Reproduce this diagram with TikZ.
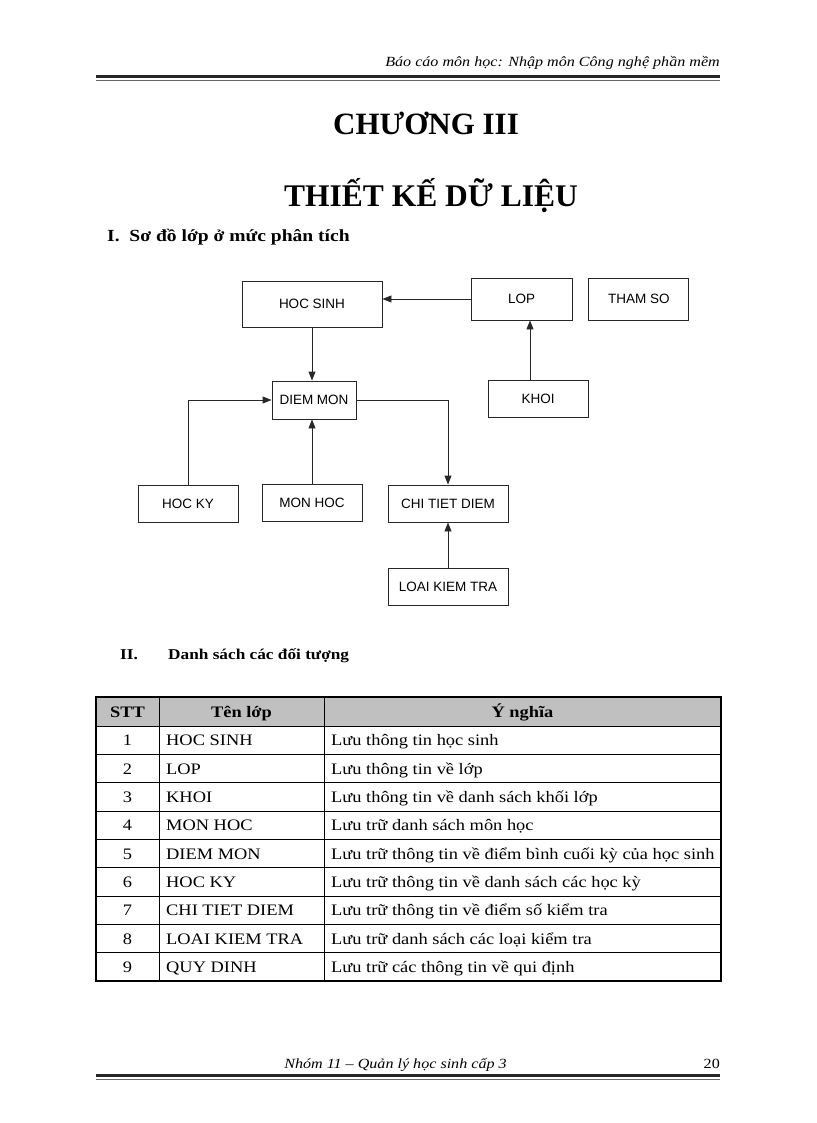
\documentclass[tikz,border=0pt]{standalone}
\usepackage{fontspec}
\setmainfont{Liberation Serif}[FakeStretch=1.15]
\setsansfont{Liberation Sans}
\newfontfamily\titlefont{Liberation Serif}
\usepackage{tikz}
\usetikzlibrary{arrows.meta,positioning}
\definecolor{hdrgray}{RGB}{192,192,192}
\definecolor{linegray}{RGB}{40,40,40}
\tikzset{
  classbox/.style={draw=linegray, line width=0.9pt, inner sep=0pt,
    minimum width=100pt, minimum height=37pt, align=center,
    font=\sffamily\fontsize{13.5}{16}\selectfont},
  link/.style={-{Triangle[length=9pt,width=7pt]}, line width=0.9pt, draw=linegray},
  plaintext/.style={inner sep=0pt},
  cell/.style={inner sep=0pt, font=\fontsize{16}{19}\selectfont},
  headcell/.style={inner sep=0pt, anchor=base, font=\bfseries\fontsize{16}{19}\selectfont},
  rulethick/.style={line width=3pt, black!85},
  rulethin/.style={line width=1pt, black!60}
}

\begin{document}
\begin{tikzpicture}[x=1pt, y=-1pt]
\useasboundingbox (0,0) rectangle (816,1123);

% page header
\node[plaintext, anchor=base east, font=\itshape\fontsize{14}{17}\selectfont] (hdr) at (720,67)
  {Báo cáo môn học: Nhập môn Công nghệ phần mềm};
\draw[rulethick] (96,76.5) -- (720,76.5);
\draw[rulethin] (96,80.5) -- (720,80.5);

% chapter title
\node[plaintext, anchor=base, font=\titlefont\bfseries\fontsize{31}{36}\selectfont] (chap) at (426,135) {CHƯƠNG III};
\node[plaintext, anchor=base, font=\titlefont\bfseries\fontsize{31.5}{36}\selectfont] (chaptitle) at (431,207) {THIẾT KẾ DỮ LIỆU};

% section I
\node[plaintext, anchor=base west, font=\bfseries\fontsize{17}{20}\selectfont] (sec1) at (107,241)
  {I.\ \ Sơ đồ lớp ở mức phân tích};

% class diagram
\node[classbox, minimum width=140pt, minimum height=46pt] (hocsinh) at (312,304) {HOC SINH};
\node[classbox, minimum width=84pt, minimum height=38pt] (diemmon) at (314,400) {DIEM MON};
\node[classbox, minimum width=101pt, minimum height=42pt] (lop) at (521.5,299) {LOP};
\node[classbox, minimum width=100pt, minimum height=42pt, right=16pt of lop] (thamso) {THAM SO};
\node[classbox] (khoi) at (538,398.5) {KHOI};
\node[classbox] (hocky) at (188,503.5) {HOC KY};
\node[classbox] (monhoc) at (312,502.5) {MON HOC};
\node[classbox, minimum width=120pt] (chitiet) at (448,503.5) {CHI TIET DIEM};
\node[classbox, minimum width=120pt] (loaikt) at (448,586.5) {LOAI KIEM TRA};

\draw[link] (lop.west) -- (hocsinh.east |- lop.west);
\draw[link] (hocsinh.south) -- (hocsinh.south |- diemmon.north);
\draw[link] (hocky.north) |- (diemmon.west);
\draw[link] (monhoc.north) -- (monhoc.north |- diemmon.south);
\draw[link] (diemmon.east) -| (chitiet.north);
\draw[link] ([xshift=-8pt]khoi.north) -- ([xshift=-8pt]khoi.north |- lop.south);
\draw[link] (loaikt.north) -- (chitiet.south);

% section II
\node[plaintext, anchor=base west, font=\bfseries\fontsize{15}{18}\selectfont] (sec2num) at (120,659) {II.};
\node[plaintext, anchor=base west, font=\bfseries\fontsize{15}{18}\selectfont] (sec2) at (168,659)
  {Danh sách các đối tượng};

% table
\fill[hdrgray] (96,697) rectangle (721,726);
\foreach \i in {0,...,8}
  \draw[line width=0.9pt] (96,{726+\i*28.333}) -- (721,{726+\i*28.333});
\foreach \x in {159,324}
  \draw[line width=0.9pt] (\x,697) -- (\x,981);
\draw[line width=1.3pt] (96,697) rectangle (721,981);

\node[headcell] (hstt) at (127.5,717) {STT};
\node[headcell] (hten) at (241.5,717) {Tên lớp};
\node[headcell] (hnghia) at (522.5,717) {Ý nghĩa};

\foreach \n/\name/\desc [count=\i] in {
    1/HOC SINH/Lưu thông tin học sinh,
    2/LOP/Lưu thông tin về lớp,
    3/KHOI/Lưu thông tin về danh sách khối lớp,
    4/MON HOC/Lưu trữ danh sách môn học,
    5/DIEM MON/Lưu trữ thông tin về điểm bình cuối kỳ của học sinh,
    6/HOC KY/Lưu trữ thông tin về danh sách các học kỳ,
    7/CHI TIET DIEM/Lưu trữ thông tin về điểm số kiểm tra,
    8/LOAI KIEM TRA/Lưu trữ danh sách các loại kiểm tra,
    9/QUY DINH/Lưu trữ các thông tin về qui định} {
  \node[cell, anchor=base] (stt\n) at (127.5,{726+(\i-0.5)*28.333+5.5}) {\n};
  \node[cell, anchor=base west] (ten\n) at (166,{726+(\i-0.5)*28.333+5.5}) {\name};
  \node[cell, anchor=base west] (nghia\n) at (331,{726+(\i-0.5)*28.333+5.5}) {\desc};
}

% page footer
\node[plaintext, anchor=base, font=\itshape\fontsize{14}{17}\selectfont] (ftr) at (395.5,1068)
  {Nhóm 11 – Quản lý học sinh cấp 3};
\node[plaintext, anchor=base east, font=\fontsize{14}{17}\selectfont] (pgnum) at (720,1068) {20};
\draw[rulethick] (96,1075.5) -- (720,1075.5);
\draw[rulethin] (96,1079.5) -- (720,1079.5);
\end{tikzpicture}
\end{document}
